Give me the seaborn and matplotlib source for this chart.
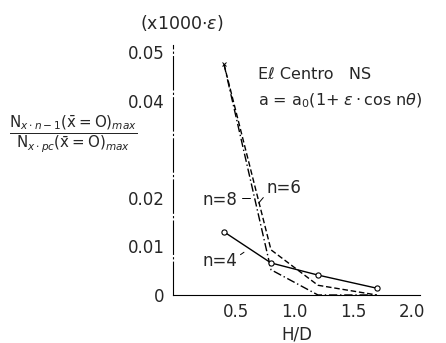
import pandas as pd
import matplotlib.pyplot as plt
import seaborn as sns

# H/D positions and ratio values (x1000*eps)
hd = [0.4, 0.8, 1.2, 1.7]
n4 = [0.0130, 0.0066, 0.0041, 0.0014]
n6 = [0.0475, 0.0093, 0.0020, 0.0000]
n8 = [0.0475, 0.0052, 0.0000, 0.0000]

df = pd.DataFrame({
    "H/D": hd * 3,
    "ratio": n4 + n6 + n8,
    "n": ["n=4"] * 4 + ["n=6"] * 4 + ["n=8"] * 4,
})

sns.set_style("white")
plt.rcParams['font.family'] = ['DejaVu Sans']

fig = plt.figure(figsize=(4.46, 3.43), dpi=100)
ax = fig.add_axes([0.388, 0.14, 0.554, 0.729])

sns.lineplot(data=df, x="H/D", y="ratio", style="n",
             dashes={"n=4": "", "n=6": (4, 2), "n=8": (6, 2, 1, 2)},
             color="black", lw=1.0, legend=False, ax=ax)
# markers
sns.scatterplot(data=df[df["n"] == "n=4"], x="H/D", y="ratio", marker="o",
                s=14, facecolor="white", edgecolor="black", linewidth=0.8,
                zorder=3, legend=False, ax=ax)
ax.plot(hd[0], n6[0], marker="x", ms=3, color="black", mew=0.7)

ax.set_xlim(-0.034, 2.07)
ax.set_ylim(0, 0.0515)
ax.set_xticks([0.5, 1.0, 1.5, 2.0])
ax.set_xticklabels(["0.5", "1.0", "1.5", "2.0"])
ax.set_yticks([0, 0.01, 0.02, 0.04, 0.05])
ax.set_yticklabels(["0", "0.01", "0.02", "0.04", "0.05"])
ax.tick_params(labelsize=12, length=0, pad=6)
ax.set_xlabel("H/D", fontsize=12, labelpad=3)
ax.set_ylabel("")
for s in ["top", "right"]:
    ax.spines[s].set_visible(False)
for s in ["left", "bottom"]:
    ax.spines[s].set_color("black")
    ax.spines[s].set_linewidth(0.8)
ax.spines["left"].set_linestyle((0, (30, 3, 1, 3)))

# annotations
ax.text(0.69, 0.0445, "E\u2113 Centro   NS", fontsize=11.5)
ax.text(0.69, 0.0390, r"a = a$_0$(1+ $\epsilon\cdot$cos n$\theta$)", fontsize=11.5)
ax.text(0.22, 0.0185, "n=8", fontsize=12)
ax.text(0.76, 0.0210, "n=6", fontsize=12)
ax.text(0.22, 0.0060, "n=4", fontsize=12)
ax.plot([0.55, 0.62], [0.0200, 0.0200], color="black", lw=0.7)
ax.annotate("", xy=(0.68, 0.0185), xytext=(0.75, 0.0205),
            arrowprops=dict(arrowstyle="-", color="black", lw=0.7))
ax.plot([0.54, 0.57], [0.0083, 0.0088], color="black", lw=0.7)

fig.text(0.408, 0.915, r"(x1000$\cdot\epsilon$)", fontsize=12.5, ha="center")
fig.text(0.02, 0.61,
         r"$\frac{\mathregular{N}_{x\cdot n-1}(\bar{\mathregular{x}}=\mathregular{O})_{max}}"
         r"{\mathregular{N}_{x\cdot pc}(\bar{\mathregular{x}}=\mathregular{O})_{max}}$",
         fontsize=15.5, va="center")

plt.savefig("out.png", dpi=100)
